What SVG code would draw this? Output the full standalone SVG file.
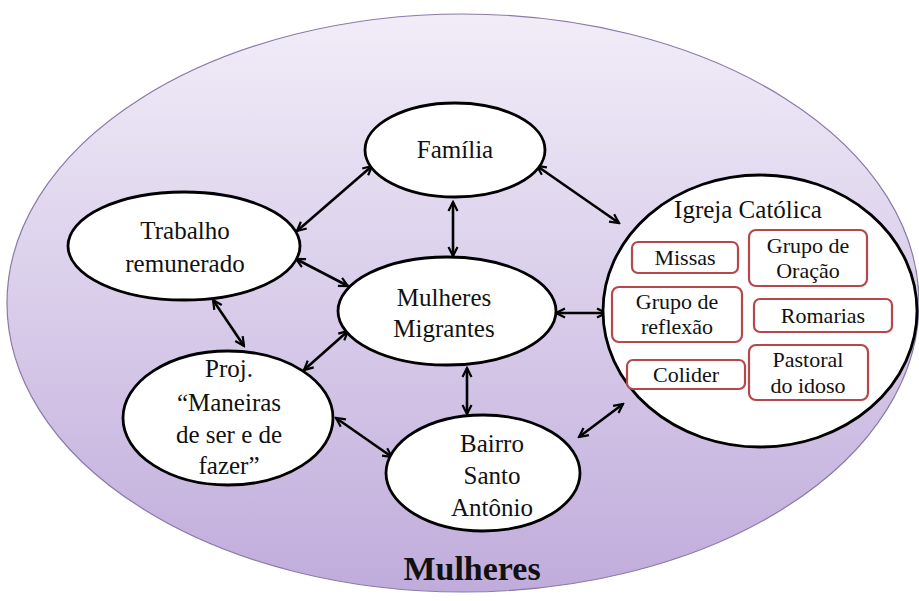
<svg xmlns="http://www.w3.org/2000/svg" width="919" height="601" viewBox="0 0 919 601">
<defs>
<linearGradient id="bg" x1="0" y1="0" x2="0" y2="1">
<stop offset="0" stop-color="#f1edf8"/>
<stop offset="0.5" stop-color="#d9cdea"/>
<stop offset="1" stop-color="#c0acdb"/>
</linearGradient>
<marker id="ah" viewBox="0 0 12 12" refX="10" refY="6" markerWidth="12" markerHeight="12" markerUnits="userSpaceOnUse" orient="auto-start-reverse">
<path d="M1,1.5 L10,6 L1,10.5" fill="none" stroke="#000" stroke-width="2.2" stroke-linejoin="miter"/>
</marker>
<style>
.node{fill:#fff;stroke:#000;stroke-width:2.8}
.box{fill:#fff;stroke:#b5484b;stroke-width:2.2}
.con{stroke:#000;stroke-width:2.6;fill:none;marker-start:url(#ah);marker-end:url(#ah)}
</style>
</defs>
<g id="mulheres">
<ellipse cx="463" cy="303" rx="456" ry="289" fill="url(#bg)" stroke="#8a7aa6" stroke-width="1.2"/>
<text x="472" y="580" font-family="Liberation Serif, Times New Roman, serif" font-size="34" font-weight="bold" fill="#111" text-anchor="middle">Mulheres</text>
</g>
<g id="connectors">
<line class="con" x1="297" y1="231" x2="372" y2="166"/>
<line class="con" x1="537" y1="166" x2="619" y2="223"/>
<line class="con" x1="453" y1="202" x2="453" y2="256"/>
<line class="con" x1="296" y1="259" x2="348" y2="286"/>
<line class="con" x1="556" y1="313" x2="606" y2="313"/>
<line class="con" x1="213" y1="300" x2="244" y2="346"/>
<line class="con" x1="348" y1="331" x2="304" y2="370"/>
<line class="con" x1="467" y1="368" x2="467" y2="414"/>
<line class="con" x1="336" y1="418" x2="392" y2="457"/>
<line class="con" x1="579" y1="437" x2="623" y2="404"/>
</g>
<g font-family="Liberation Serif, Times New Roman, serif" font-size="25" fill="#111" text-anchor="middle">
<g id="familia">
<ellipse class="node" cx="455" cy="150" rx="90" ry="47"/>
<text x="455" y="158">Família</text>
</g>
<g id="trabalho">
<ellipse class="node" cx="184" cy="246" rx="116" ry="54"/>
<text x="185" y="239">Trabalho</text>
<text x="185" y="272">remunerado</text>
</g>
<g id="migrantes">
<ellipse class="node" cx="447" cy="311" rx="109" ry="54"/>
<text x="444" y="306">Mulheres</text>
<text x="444" y="337">Migrantes</text>
</g>
<g id="proj">
<ellipse class="node" cx="228" cy="418" rx="105" ry="67"/>
<text x="229" y="377">Proj.</text>
<text x="229" y="411">“Maneiras</text>
<text x="229" y="443">de ser e de</text>
<text x="229" y="474">fazer”</text>
</g>
<g id="bairro">
<ellipse class="node" cx="483" cy="473" rx="97" ry="58"/>
<text x="492" y="452">Bairro</text>
<text x="492" y="484">Santo</text>
<text x="492" y="516">Antônio</text>
</g>
<g id="igreja">
<ellipse class="node" cx="760" cy="311" rx="157" ry="136"/>
<text x="748" y="218">Igreja Católica</text>
<g font-size="22">
<g id="missas"><rect class="box" x="632" y="242" width="106" height="31" rx="6"/><text x="685" y="265">Missas</text></g>
<g id="oracao"><rect class="box" x="749" y="230" width="118" height="56" rx="7"/><text x="808" y="253">Grupo de</text><text x="808" y="278">Oração</text></g>
<g id="reflexao"><rect class="box" x="612" y="287" width="130" height="55" rx="7"/><text x="677" y="309">Grupo de</text><text x="677" y="334">reflexão</text></g>
<g id="romarias"><rect class="box" x="754" y="299" width="138" height="33" rx="6"/><text x="823" y="323">Romarias</text></g>
<g id="colider"><rect class="box" x="627" y="360" width="118" height="29" rx="6"/><text x="686" y="382">Colider</text></g>
<g id="pastoral"><rect class="box" x="749" y="345" width="119" height="55" rx="7"/><text x="808" y="367">Pastoral</text><text x="808" y="393">do idoso</text></g>
</g>
</g>
</g>
</svg>
